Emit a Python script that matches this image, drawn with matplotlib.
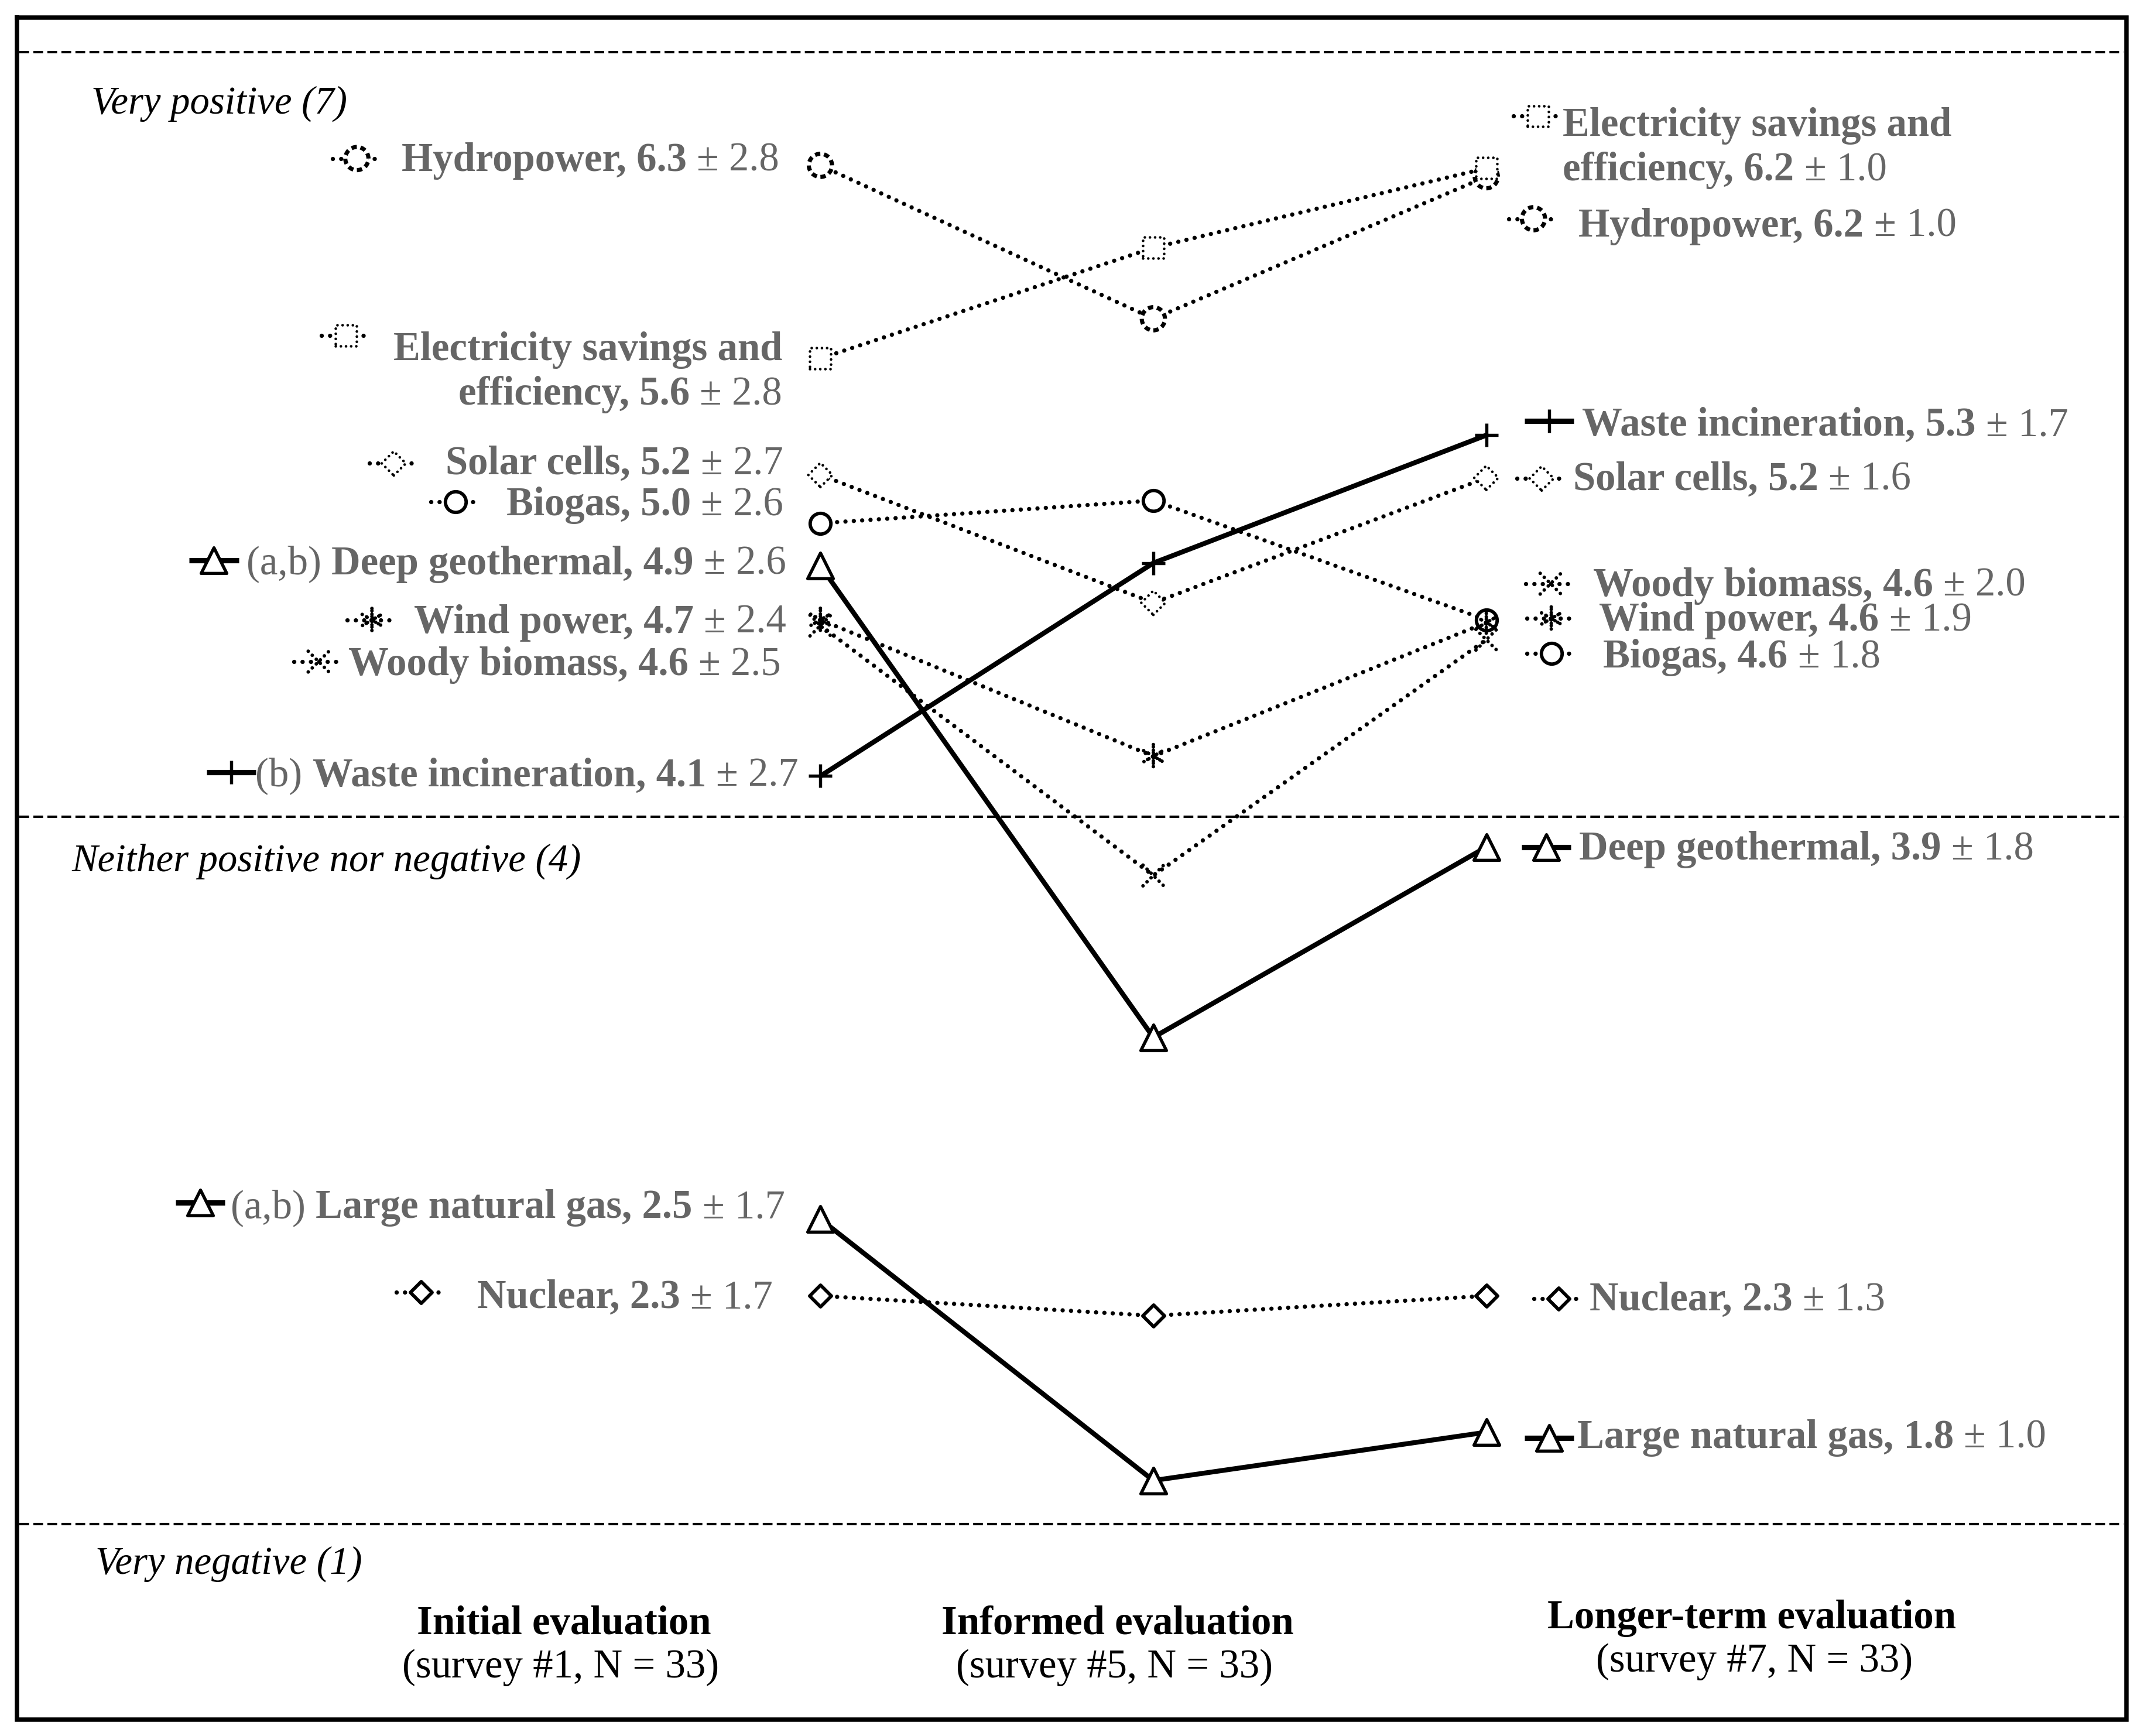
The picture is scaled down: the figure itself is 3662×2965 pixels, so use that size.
import matplotlib
matplotlib.use("Agg")
import matplotlib.pyplot as plt
import numpy as np

# ------------------------------------------------------------------ data
sources = ["Hydropower", "Electricity savings and\nefficiency", "Solar cells", "Biogas",
           "Deep geothermal", "Wind power", "Woody biomass", "Waste incineration",
           "Large natural gas", "Nuclear"]
initial_mean = [6.26, 5.58, 5.17, 5.00, 4.85, 4.66, 4.64, 4.11, 2.55, 2.28]
informed_mean = [5.72, 5.97, 4.72, 5.08, 3.19, 4.18, 3.76, 4.86, 1.63, 2.21]
longer_mean = [6.22, 6.25, 5.16, 4.66, 3.86, 4.65, 4.59, 5.31, 1.80, 2.28]
initial_label = ["6.3", "5.6", "5.2", "5.0", "4.9", "4.7", "4.6", "4.1", "2.5", "2.3"]
initial_sd = ["2.8", "2.8", "2.7", "2.6", "2.6", "2.4", "2.5", "2.7", "1.7", "1.7"]
longer_label = ["6.2", "6.2", "5.2", "4.6", "3.9", "4.6", "4.6", "5.3", "1.8", "2.3"]
longer_sd = ["1.0", "1.0", "1.6", "1.8", "1.8", "1.9", "2.0", "1.7", "1.0", "1.3"]
initial_notes = ["", "", "", "", "(a,b)", "", "", "(b)", "(a,b)", ""]
stages = ["Initial evaluation", "Informed evaluation", "Longer-term evaluation"]
stage_surveys = ["(survey #1, N = 33)", "(survey #5, N = 33)", "(survey #7, N = 33)"]
scale_labels = ["Very positive (7)", "Neither positive nor negative (4)", "Very negative (1)"]

# ------------------------------------------------------------------ styles
DOT = (0, (0.01, 1.95))
MDOT = (0, (0.01, 1.9))
XDOT = (0, (0.01, 1.6))
styles = [
    dict(line="dot", marker="o", ms=9.5, mew=1.7, mls=(0, (1.3, 0.9)), cap="butt"),  # Hydropower
    dict(line="dot", marker="s", ms=8.6, mew=1.1, mls=MDOT, cap="round"),     # Electricity
    dict(line="dot", marker="D", ms=7.0, mew=1.1, mls=MDOT, cap="round"),     # Solar
    dict(line="dot", marker="o", ms=8.5, mew=1.4, mls="-", cap="butt"),       # Biogas
    dict(line="solid", marker="^", ms=10.5, mew=1.3, mls="-", cap="butt"),    # Deep geothermal
    dict(line="dot", marker=(6, 2, 0), ms=9.5, mew=1.45, mls=XDOT, cap="round"),  # Wind
    dict(line="dot", marker="x", ms=8.5, mew=1.45, mls=XDOT, cap="round"),    # Woody
    dict(line="solid", marker="+", ms=9.5, mew=1.3, mls="-", cap="butt"),     # Waste
    dict(line="solid", marker="^", ms=10.5, mew=1.3, mls="-", cap="butt"),    # Large gas
    dict(line="dot", marker="D", ms=6.3, mew=1.4, mls="-", cap="butt"),       # Nuclear
]

# ------------------------------------------------------------------ layout (reference preview units)
PXW, PXH = 1568.0, 1270.0
left_sample = [(261, 116), (253, 245.5), (288, 339), (333, 367), (156.5, 410),
               (272, 453.6), (233, 484), (169, 565), (146.5, 880), (308, 945.5)]
left_right = [570, 572, 573, 573, 575, 575, 571, 584, 574, 565]
left_base = [125, 296, 347, 377, 420, 463, 494, 575, 891, 957]
right_sample = [(1121.5, 160), (1125, 85), (1127.5, 350), (1134.5, 478), (1131, 620),
                (1134.5, 452.5), (1134, 427), (1133, 308), (1133, 1052), (1140, 950)]
right_left = [1154.5, 1143, 1150.5, 1172.5, 1155, 1169.5, 1165, 1157, 1153.5, 1162.5]
right_base = [173, 132, 358.4, 488.4, 629, 461.4, 436, 318.7, 1059.2, 958.7]
LINE_GAP = 32.5

W, H, DPI = 3662, 2965, 300
FONT = "Liberation Serif"
GREY = "#666666"
FS = 16.5

fig = plt.figure(figsize=(W / DPI, H / DPI), dpi=DPI)
fig.patch.set_facecolor("white")

ov = fig.add_axes([0, 0, 1, 1])
ov.set_xlim(0, PXW)
ov.set_ylim(PXH, 0)
ov.axis("off")

ax = fig.add_axes([0, 0, 1, 1])
ax.axis("off")
ax.patch.set_alpha(0)
# column 0 sits at x=600, spacing 243.5 ; value 4 at y=590.6, 207.8 per unit
ax.set_xlim(-600 / 243.5, (PXW - 600) / 243.5)
ax.set_ylim(4 - (PXH - 590.6) / 207.8, 4 + 590.6 / 207.8)

# frame and dashed reference lines
ov.plot([12.5, 1555, 1555, 12.5, 12.5], [13, 13, 1258, 1258, 13], color="k", lw=1.8,
        solid_joinstyle="miter", zorder=1)
for yy in [38, 597.5, 1115]:
    ov.plot([14, 1553], [yy, yy], color="k", lw=1.0, linestyle=(0, (4, 1.75)), zorder=1)


def draw_marker(axis, x, y, st, zorder=4):
    filled = st["marker"] not in ("x", "+") and not isinstance(st["marker"], tuple)
    if filled:
        sc = axis.scatter(x, y, s=st["ms"] ** 2, marker=st["marker"], facecolors="white",
                          edgecolors="k", linewidths=st["mew"], linestyles=st["mls"],
                          zorder=zorder)
    else:
        sc = axis.scatter(x, y, s=st["ms"] ** 2, marker=st["marker"], c="k",
                          linewidths=st["mew"], linestyles=st["mls"], zorder=zorder)
    sc.set_capstyle(st["cap"])


def line_kw(st):
    if st["line"] == "dot":
        return dict(color="k", lw=1.75, linestyle=DOT, dash_capstyle="round")
    return dict(color="k", lw=2.0, linestyle="-", solid_capstyle="butt")


xs = np.arange(len(stages))
for i in range(len(sources)):
    vals = [initial_mean[i], informed_mean[i], longer_mean[i]]
    st = styles[i]
    ax.plot(xs, vals, zorder=2, **line_kw(st))
    draw_marker(ax, xs, vals, st)

# legend samples
for i in range(len(sources)):
    st = styles[i]
    for (cx, cy) in (left_sample[i], right_sample[i]):
        kw = line_kw(st)
        if st["line"] == "solid":
            kw["lw"] = 2.2
        ov.plot([cx - 18, cx + 18], [cy, cy], zorder=2, **kw)
        draw_marker(ov, [cx], [cy], st)

# ------------------------------------------------------------------ text helpers
renderer = fig.canvas.get_renderer()
kx = PXW / W


def text_width(s, weight, style="normal", size=FS):
    t = ov.text(0, 0, s, fontsize=size, fontweight=weight, fontstyle=style, family=FONT)
    w = t.get_window_extent(renderer).width * kx
    t.remove()
    return w


def space_width(weight):
    return text_width("a a", weight) - text_width("aa", weight)


def rich(x, y, parts, ha="left", color=GREY):
    widths = [text_width(s, w) for s, w in parts]
    gaps = [space_width(parts[j][1]) for j in range(len(parts) - 1)]
    total = sum(widths) + sum(gaps)
    x0 = x - total if ha == "right" else x
    for j, (s, w) in enumerate(parts):
        ov.text(x0, y, s, ha="left", va="baseline", fontsize=FS, fontweight=w,
                family=FONT, color=color, zorder=5)
        x0 += widths[j] + (gaps[j] if j < len(gaps) else 0)


for i, name in enumerate(sources):
    lines = name.split("\n")
    # left (initial)
    last = [(lines[-1] + ", " + initial_label[i], "bold"), ("\u00b1 " + initial_sd[i], "normal")]
    if initial_notes[i]:
        last = [(initial_notes[i], "normal")] + last
    rich(left_right[i], left_base[i], last, ha="right")
    for k, ln in enumerate(lines[:-1][::-1]):
        rich(left_right[i], left_base[i] - LINE_GAP * (k + 1), [(ln, "bold")], ha="right")
    # right (longer-term)
    last = [(lines[-1] + ", " + longer_label[i], "bold"), ("\u00b1 " + longer_sd[i], "normal")]
    rich(right_left[i], right_base[i], last, ha="left")
    for k, ln in enumerate(lines[:-1][::-1]):
        rich(right_left[i], right_base[i] - LINE_GAP * (k + 1), [(ln, "bold")], ha="left")

# scale labels
for lab, (x, y) in zip(scale_labels, [(67, 83), (52.5, 637), (70, 1151)]):
    ov.text(x, y, lab, fontsize=16, fontstyle="italic", family=FONT, color="k",
            ha="left", va="baseline")

# stage headers
for lab, sub, (cx, by, cx2, by2) in zip(stages, stage_surveys,
                                         [(412.5, 1195.4, 410, 1227),
                                          (817.5, 1195.4, 815, 1227),
                                          (1281, 1191, 1283, 1223)]):
    ov.text(cx, by, lab, fontsize=FS, fontweight="bold", family=FONT, color="k",
            ha="center", va="baseline")
    ov.text(cx2, by2, sub, fontsize=FS, family=FONT, color="k", ha="center", va="baseline")

fig.savefig("out.png", dpi=DPI, facecolor="white")
